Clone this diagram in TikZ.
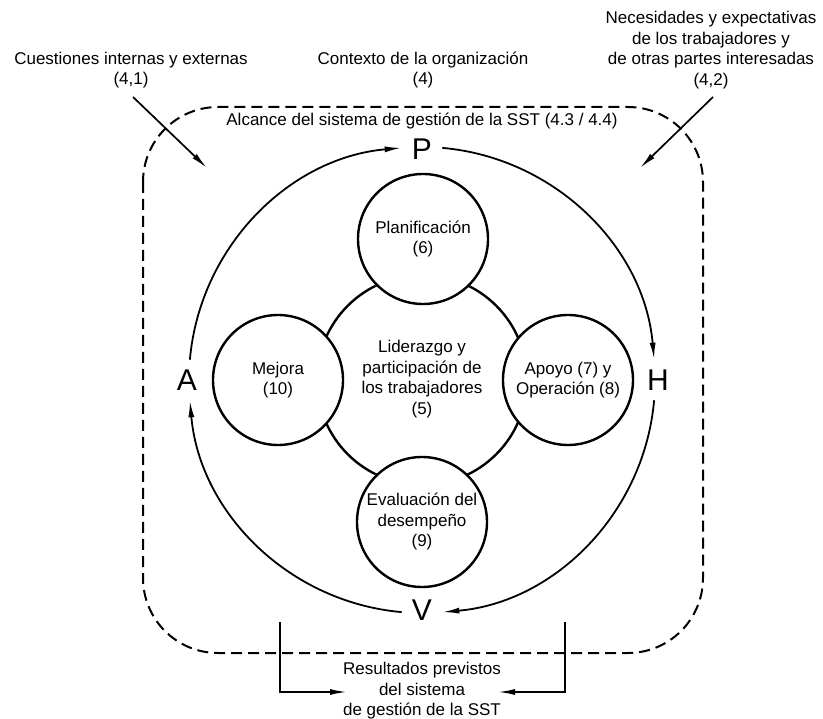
\documentclass[tikz,border=0pt]{standalone}
\usepackage{fontspec}
\setmainfont{Liberation Sans}
\usetikzlibrary{arrows.meta,calc}
\tikzset{
  txt/.style={align=center,font=\fontsize{17}{20.5}\selectfont,inner sep=0pt},
  letter/.style={font=\fontsize{30}{30}\selectfont,inner sep=0pt},
  bubble/.style={circle,draw,line width=2.4pt,fill=white,minimum size=130pt,inner sep=0pt,align=center,font=\fontsize{17}{20.5}\selectfont},
  cycle/.style={line width=1.8pt,-{Latex[length=17pt,width=6pt]}},
  feed/.style={line width=1.7pt,-{Latex[length=17pt,width=6pt]}},
  scope box/.style={dashed,line width=2pt,dash pattern=on 11pt off 6pt,rounded corners=75pt}
}
\begin{document}
\begin{tikzpicture}[x=1pt,y=-1pt]
\useasboundingbox (0,0) rectangle (823,719);
% scope boundary
\draw[scope box] (143,107) rectangle (703,653);
\node[txt] (alc) at (422,121) {Alcance del sistema de gestión de la SST (4.3 / 4.4)};
% top labels
\node[txt] (cue) at (131,70) {Cuestiones internas y externas\\(4,1)};
\node[txt] (ctx) at (423,70) {Contexto de la organización\\(4)};
\node[txt] (nec) at (711,50) {Necesidades y expectativas\\de los trabajadores y\\de otras partes interesadas\\(4,2)};
\coordinate (cueS) at (133,97);
\coordinate (cueE) at (207,168);
\coordinate (necS) at (713,97);
\coordinate (necE) at (640,168);
\draw[feed] (cueS) -- (cueE);
\draw[feed] (necS) -- (necE);
% PDCA cycle
\coordinate (c) at (422,380);
\node[letter] (P) at (422,149) {P};
\node[letter] (H) at (658,380) {H};
\node[letter] (V) at (422,610) {V};
\node[letter] (A) at (187,380) {A};
\draw[cycle] ($(c)+(-175:233)$) arc[start angle=-175,end angle=-95,radius=233];
\draw[cycle] ($(c)+(-85:233)$) arc[start angle=-85,end angle=-5,radius=233];
\draw[cycle] ($(c)+(5:233)$) arc[start angle=5,end angle=85,radius=233];
\draw[cycle] ($(c)+(95:233)$) arc[start angle=95,end angle=175,radius=233];
% inner circles
\node[circle,draw,line width=2.4pt,minimum size=210pt,inner sep=0pt] (lid) at (422,380) {};
\node[bubble] (pla) at (423,239) {Planificación\\(6)};
\node[bubble] (eva) at (422,522) {Evaluación del\\desempeño\\(9)};
\node[bubble] (mej) at (278,380) {Mejora\\(10)};
\node[bubble] (apo) at (568,380) {Apoyo (7) y\\Operación (8)};
\node[txt] (lidt) at (422,379) {Liderazgo y\\participación de\\los trabajadores\\(5)};
% outcomes
\node[txt] (res) at (422,691) {Resultados previstos\\del sistema\\de gestión de la SST};
\coordinate (rl) at (280,622);
\coordinate (rlE) at (347,692);
\coordinate (rr) at (565,622);
\coordinate (rrE) at (498,692);
\draw[feed] (rl) |- (rlE);
\draw[feed] (rr) |- (rrE);
\end{tikzpicture}
\end{document}
